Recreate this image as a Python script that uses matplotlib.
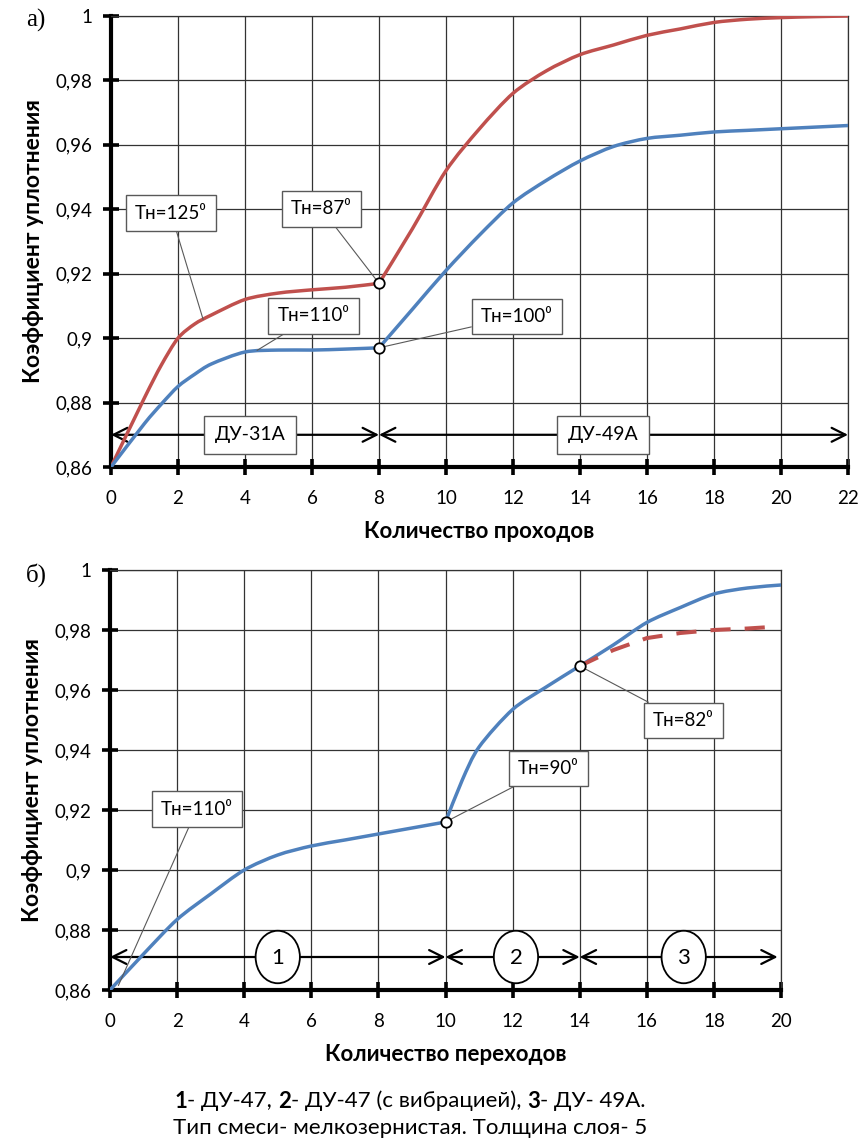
import matplotlib
matplotlib.use('Agg')
import matplotlib.pyplot as plt
from matplotlib.patches import Ellipse, PathPatch
from matplotlib.path import Path
from matplotlib.ticker import FixedLocator, FuncFormatter

plt.rcParams['font.family'] = ['Lato', 'DejaVu Sans']

# ---------------- data: panel a ----------------
a_x = [0, 1, 1.5, 2, 2.5, 3, 4, 5, 6, 7, 8, 9, 10, 11, 12, 13, 14, 15, 16, 17, 18, 19, 20, 21, 22]
a_red = [0.860, 0.8815, 0.8916, 0.900, 0.9044, 0.9072, 0.912, 0.914, 0.915, 0.9158, 0.917,
         0.934, 0.952, 0.965, 0.976, 0.983, 0.988, 0.991, 0.994, 0.996, 0.998, 0.999, 0.9995,
         0.9998, 1.000]
a_blue = [0.860, 0.8735, 0.8795, 0.885, 0.8888, 0.892, 0.8957, 0.8963, 0.8963, 0.8966, 0.897,
          0.909, 0.921, 0.932, 0.942, 0.949, 0.955, 0.9595, 0.962, 0.963, 0.964, 0.9645, 0.965,
          0.9655, 0.966]
a_xticks = [0, 2, 4, 6, 8, 10, 12, 14, 16, 18, 20, 22]
a_yticks = [0.86, 0.88, 0.90, 0.92, 0.94, 0.96, 0.98, 1.00]
a_xlabel = 'Количество проходов'
a_machines = ['ДУ-31А', 'ДУ-49А']
a_bounds = [0, 8, 22]

# ---------------- data: panel b ----------------
b_x = [0, 1, 2, 3, 4, 5, 6, 7, 8, 9, 10, 10.5, 11, 12, 13, 14, 15, 16, 17, 18, 19, 20]
b_blue = [0.860, 0.872, 0.8835, 0.892, 0.900, 0.905, 0.908, 0.910, 0.912, 0.914, 0.916, 0.930,
          0.941, 0.9535, 0.961, 0.968, 0.975, 0.9825, 0.9875, 0.992, 0.994, 0.995]
b_red_x = [14, 15, 16, 17, 18, 19, 19.7]
b_red = [0.968, 0.9733, 0.9773, 0.979, 0.980, 0.9805, 0.981]
b_xticks = [0, 2, 4, 6, 8, 10, 12, 14, 16, 18, 20]
b_yticks = [0.86, 0.88, 0.90, 0.92, 0.94, 0.96, 0.98, 1.00]
b_xlabel = 'Количество переходов'
b_stages = ['1', '2', '3']
b_bounds = [0, 10, 14, 19.9]

ylabel = 'Коэффициент уплотнения'
RED = '#C0504D'
BLUE = '#4F81BD'
EDGE = '#595959'

fig = plt.figure(figsize=(8.62, 11.42), dpi=100)
W, H = 862, 1142


def axes_px(l, t, r, b):
    return fig.add_axes([l / W, 1 - b / H, (r - l) / W, (b - t) / H])


def yfmt(v, pos):
    s = ('%.2f' % v).rstrip('0').rstrip('.')
    return s.replace('.', ',')


def style(ax, xticks, yticks, xlim, xlabel):
    ax.set_xlim(*xlim)
    ax.set_ylim(0.86, 1.0)
    ax.xaxis.set_major_locator(FixedLocator(xticks))
    ax.yaxis.set_major_locator(FixedLocator(yticks))
    ax.yaxis.set_major_formatter(FuncFormatter(yfmt))
    ax.grid(True, color='#333333', lw=0.9)
    ax.set_axisbelow(True)
    for s in ['left', 'bottom']:
        ax.spines[s].set_linewidth(3.0)
        ax.spines[s].set_color('black')
    for s in ['top', 'right']:
        ax.spines[s].set_linewidth(0.9)
        ax.spines[s].set_color('#333333')
    ax.tick_params(axis='both', direction='inout', length=11, width=2.6, color='black',
                   labelsize=13.5)
    ax.tick_params(axis='x', pad=11)
    ax.tick_params(axis='y', pad=8)
    ax.set_xlabel(xlabel, fontsize=16, fontweight='bold', labelpad=10)
    ax.set_ylabel(ylabel, fontsize=16.5, fontweight='bold', labelpad=8)


def smooth(ax, xs, ys, breaks=(), **kw):
    # Excel-like smoothed line: cubic Bezier segments through the data points,
    # restarted at the given break x-values (visible corners in the chart)
    pts = list(zip(xs, ys))
    bidx = [0] + [xs.index(b) for b in breaks] + [len(xs) - 1]
    verts, codes = [], []
    for s, e in zip(bidx[:-1], bidx[1:]):
        seg = pts[s:e + 1]
        n = len(seg)
        verts.append(seg[0])
        codes.append(Path.MOVETO)
        for i in range(n - 1):
            p0 = seg[i - 1] if i > 0 else seg[i]
            p1 = seg[i]
            p2 = seg[i + 1]
            p3 = seg[i + 2] if i + 2 < n else seg[i + 1]
            k = 7.0
            c1 = (p1[0] + (p2[0] - p0[0]) / k, p1[1] + (p2[1] - p0[1]) / k)
            c2 = (p2[0] - (p3[0] - p1[0]) / k, p2[1] - (p3[1] - p1[1]) / k)
            verts += [c1, c2, p2]
            codes += [Path.CURVE4] * 3
    patch = PathPatch(Path(verts, codes), fill=False, transform=ax.transData, **kw)
    ax.add_patch(patch)
    return patch


def note(ax, text, box, pt):
    ax.annotate(text, xy=pt, xytext=box, textcoords='data', ha='center', va='center',
                fontsize=13.5, zorder=7,
                bbox=dict(boxstyle='square,pad=0.5', fc='white', ec=EDGE, lw=1.0),
                arrowprops=dict(arrowstyle='-', color=EDGE, lw=0.8, shrinkA=0, shrinkB=0))


def span_arrow(ax, x0, x1, y):
    ax.annotate('', xy=(x0, y), xytext=(x1, y), xycoords='data',
                arrowprops=dict(arrowstyle='<->,head_length=1.0,head_width=0.5',
                                color='black', lw=1.6, shrinkA=0, shrinkB=0), zorder=4)


# ================= panel a =================
ax1 = axes_px(111, 16, 848, 467)
style(ax1, a_xticks, a_yticks, (0, 22), a_xlabel)
smooth(ax1, a_x, a_red, breaks=(8,), color=RED, lw=2.5, zorder=5, capstyle='round',
       joinstyle='round')
smooth(ax1, a_x, a_blue, breaks=(8,), color=BLUE, lw=2.5, zorder=5, capstyle='round',
       joinstyle='round')
i8 = a_x.index(8)
ax1.plot([8, 8], [a_red[i8], a_blue[i8]], ls='none', marker='o', ms=7.5, mfc='white',
         mec='black', mew=1.3, zorder=8)

y_arrow = 0.870
for i in range(len(a_bounds) - 1):
    span_arrow(ax1, a_bounds[i], a_bounds[i + 1], y_arrow)
for name, xc in zip(a_machines, [4.16, 14.69]):
    ax1.text(xc, y_arrow, name, ha='center', va='center', fontsize=14, zorder=7,
             bbox=dict(boxstyle='square,pad=0.55', fc='white', ec=EDGE, lw=1.0))

note(ax1, 'Тн=125⁰', (1.79, 0.9388), (2.75, 0.9058))
note(ax1, 'Тн=87⁰', (6.28, 0.9402), (8, a_red[i8]))
note(ax1, 'Тн=110⁰', (6.04, 0.9069), (4.36, 0.8962))
note(ax1, 'Тн=100⁰', (12.12, 0.9067), (8, a_blue[i8]))

fig.text(36 / W, 1 - 20 / H, 'а)', fontsize=18, family=['Liberation Serif'],
         ha='center', va='center')

# ================= panel b =================
ax2 = axes_px(110, 570, 781, 990)
style(ax2, b_xticks, b_yticks, (0, 20), b_xlabel)
smooth(ax2, b_x, b_blue, breaks=(10,), color=BLUE, lw=2.5, zorder=5, capstyle='round',
       joinstyle='round')
ax2.plot(b_red_x, b_red, color=RED, lw=2.9, zorder=5, dashes=(5, 3.5))
ax2.plot([10, 14], [b_blue[b_x.index(10)], b_blue[b_x.index(14)]], ls='none', marker='o',
         ms=7.5, mfc='white', mec='black', mew=1.3, zorder=8)

y_arrow2 = 0.871
for i in range(len(b_bounds) - 1):
    span_arrow(ax2, b_bounds[i], b_bounds[i + 1], y_arrow2)
for lab, xc in zip(b_stages, [5.0, 12.1, 17.1]):
    ax2.add_patch(Ellipse((xc, y_arrow2), 1.32, 0.0175, fc='white', ec='black', lw=1.3,
                          zorder=6))
    ax2.text(xc, y_arrow2 - 0.0004, lab, ha='center', va='center', fontsize=16, zorder=7)

note(ax2, 'Тн=110⁰', (2.59, 0.9203), (0.25, 0.8615))
note(ax2, 'Тн=90⁰', (13.07, 0.9338), (10, b_blue[b_x.index(10)]))
note(ax2, 'Тн=82⁰', (17.09, 0.9498), (14, b_blue[b_x.index(14)]))

fig.text(36 / W, 1 - 575 / H, 'б)', fontsize=18, family=['Liberation Serif'],
         ha='center', va='center')

# ================= caption =================
line1 = [('1', 'bold'), ('- ДУ-47, ', 'normal'), ('2', 'bold'),
         ('- ДУ-47 (с вибрацией), ', 'normal'), ('3', 'bold'), ('- ДУ- 49А.', 'normal')]
line2 = [('Тип смеси- мелкозернистая. Толщина слоя- 5', 'normal')]

renderer = fig.canvas.get_renderer()


def caption(pieces, yc, xc=410, size=16):
    arts = []
    for txt, wt in pieces:
        t = fig.text(0, 0, txt, fontsize=size, fontweight=wt, ha='left', va='center')
        arts.append(t)
    total = sum(a.get_window_extent(renderer).width for a in arts)
    x = xc - total / 2
    for a in arts:
        w = a.get_window_extent(renderer).width
        a.set_position((x / W, 1 - yc / H))
        x += w


caption(line1, 1101)
caption(line2, 1128)

fig.savefig('out.png', dpi=100)
